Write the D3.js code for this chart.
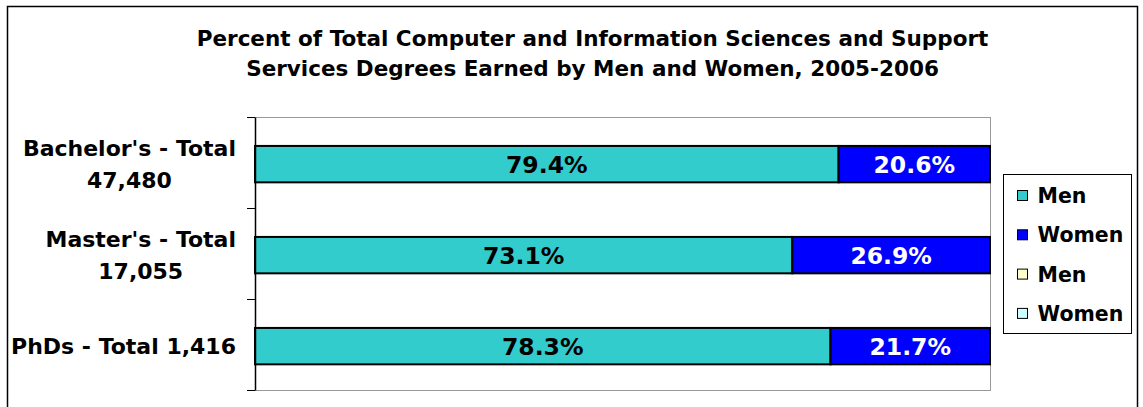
<!DOCTYPE html>
<html><head><meta charset="utf-8">
<script src="https://cdn.jsdelivr.net/npm/d3@7/dist/d3.min.js"></script>
<style>body{margin:0;background:#fff}svg{display:block}text{font-family:"DejaVu Sans",Verdana,sans-serif;font-weight:bold}</style>
</head><body><svg id="c" width="1143" height="407"></svg>
<script>
const categories = ["Bachelor's - Total|47,480", "Master's - Total|17,055", "PhDs - Total 1,416"];
const menValues = [79.4, 73.1, 78.3];
const womenValues = [20.6, 26.9, 21.7];
const seriesNames = ["Men", "Women"];
const legendLabels = ["Men", "Women", "Men", "Women"];
const legendColors = ["#33CCCC", "#0000FF", "#FFFFCC", "#CCFFFF"];
const titleLines = ["Percent of Total Computer and Information Sciences and Support", "Services Degrees Earned by Men and Women, 2005-2006"];

const svg = d3.select("#c");
svg.append("rect").attr("x", 7.5).attr("y", 6.5).attr("width", 1130).attr("height", 420).attr("fill", "#fff").attr("stroke", "#000").attr("stroke-width", 1.5);

const title = svg.append("text").attr("text-anchor", "middle").attr("font-size", 21.5);
titleLines.forEach((t, i) => title.append("tspan").attr("x", 592.5).attr("y", 45.5 + i * 30).text(t));

const x = d3.scaleLinear().domain([0, 100]).range([255, 990]);
const y = d3.scaleBand().domain(categories).range([117, 390]).paddingInner(0.6).paddingOuter(0.3).align(0.53);
const yb = d3.scaleBand().domain(categories).range([117, 390]);

// plot area border (grey)
svg.append("line").attr("x1", 247).attr("x2", 990).attr("y1", 117.5).attr("y2", 117.5).attr("stroke", "#999");
svg.append("line").attr("x1", 247).attr("x2", 990).attr("y1", 390.5).attr("y2", 390.5).attr("stroke", "#999");
svg.append("line").attr("x1", 990.5).attr("x2", 990.5).attr("y1", 117).attr("y2", 391).attr("stroke", "#999");

const stackData = categories.map((c, i) => ({cat: c, Men: menValues[i], Women: womenValues[i]}));
const stack = d3.stack().keys(seriesNames)(stackData);
const colors = {Men: "#33CCCC", Women: "#0000FF"};
const textColors = {Men: "#000", Women: "#fff"};

stack.forEach(layer => {
  const g = svg.append("g");
  g.selectAll("rect").data(layer).join("rect")
    .attr("x", d => x(d[0])).attr("width", d => x(d[1]) - x(d[0]))
    .attr("y", d => y(d.data.cat)).attr("height", y.bandwidth())
    .attr("fill", colors[layer.key]).attr("stroke", "#000").attr("stroke-width", 2);
  g.selectAll("text").data(layer).join("text")
    .attr("x", d => (x(d[0]) + x(d[1])) / 2).attr("y", d => y(d.data.cat) + y.bandwidth() / 2 + 8.5)
    .attr("text-anchor", "middle").attr("font-size", 23.5).attr("fill", textColors[layer.key])
    .text(d => (d[1] - d[0]).toFixed(1) + "%");
});

// left axis
const axis = d3.axisLeft(yb).tickSize(0).tickFormat("");
const ag = svg.append("g").attr("transform", "translate(255,0)").call(axis);
ag.select(".domain").attr("stroke", "#000").attr("stroke-width", 1.5);
ag.selectAll(".tick").remove();
const bounds = [117, ...categories.map(c => yb(c) + yb.bandwidth())];
svg.selectAll(".tk").data(bounds).join("line").attr("class", "tk")
  .attr("x1", 247).attr("x2", 255).attr("y1", d => Math.round(d) + 0.5).attr("y2", d => Math.round(d) + 0.5).attr("stroke", "#000");

// category labels
categories.forEach(c => {
  const lines = c.split("|");
  const cy = yb(c) + yb.bandwidth() / 2;
  if (lines.length === 2) {
    const t1 = svg.append("text").attr("font-size", 22).attr("text-anchor", "end").attr("x", 236).attr("y", cy - 6.5).text(lines[0]);
    const w = t1.node().getComputedTextLength();
    svg.append("text").attr("font-size", 22).attr("text-anchor", "middle").attr("x", 236 - w / 2).attr("y", cy + 25.5).text(lines[1]);
  } else {
    svg.append("text").attr("font-size", 22).attr("text-anchor", "end").attr("x", 236).attr("y", cy + 9.5).text(lines[0]);
  }
});

// legend
svg.append("rect").attr("x", 1003.5).attr("y", 174.5).attr("width", 128).attr("height", 159).attr("fill", "#fff").attr("stroke", "#000");
legendLabels.forEach((l, i) => {
  const ly = 195 + i * 39.3;
  svg.append("rect").attr("x", 1017.5).attr("y", ly - 4.5).attr("width", 10).attr("height", 10).attr("fill", legendColors[i]).attr("stroke", "#000");
  svg.append("text").attr("x", 1037.5).attr("y", ly + 8).attr("font-size", 20.5).text(l);
});
</script></body></html>
